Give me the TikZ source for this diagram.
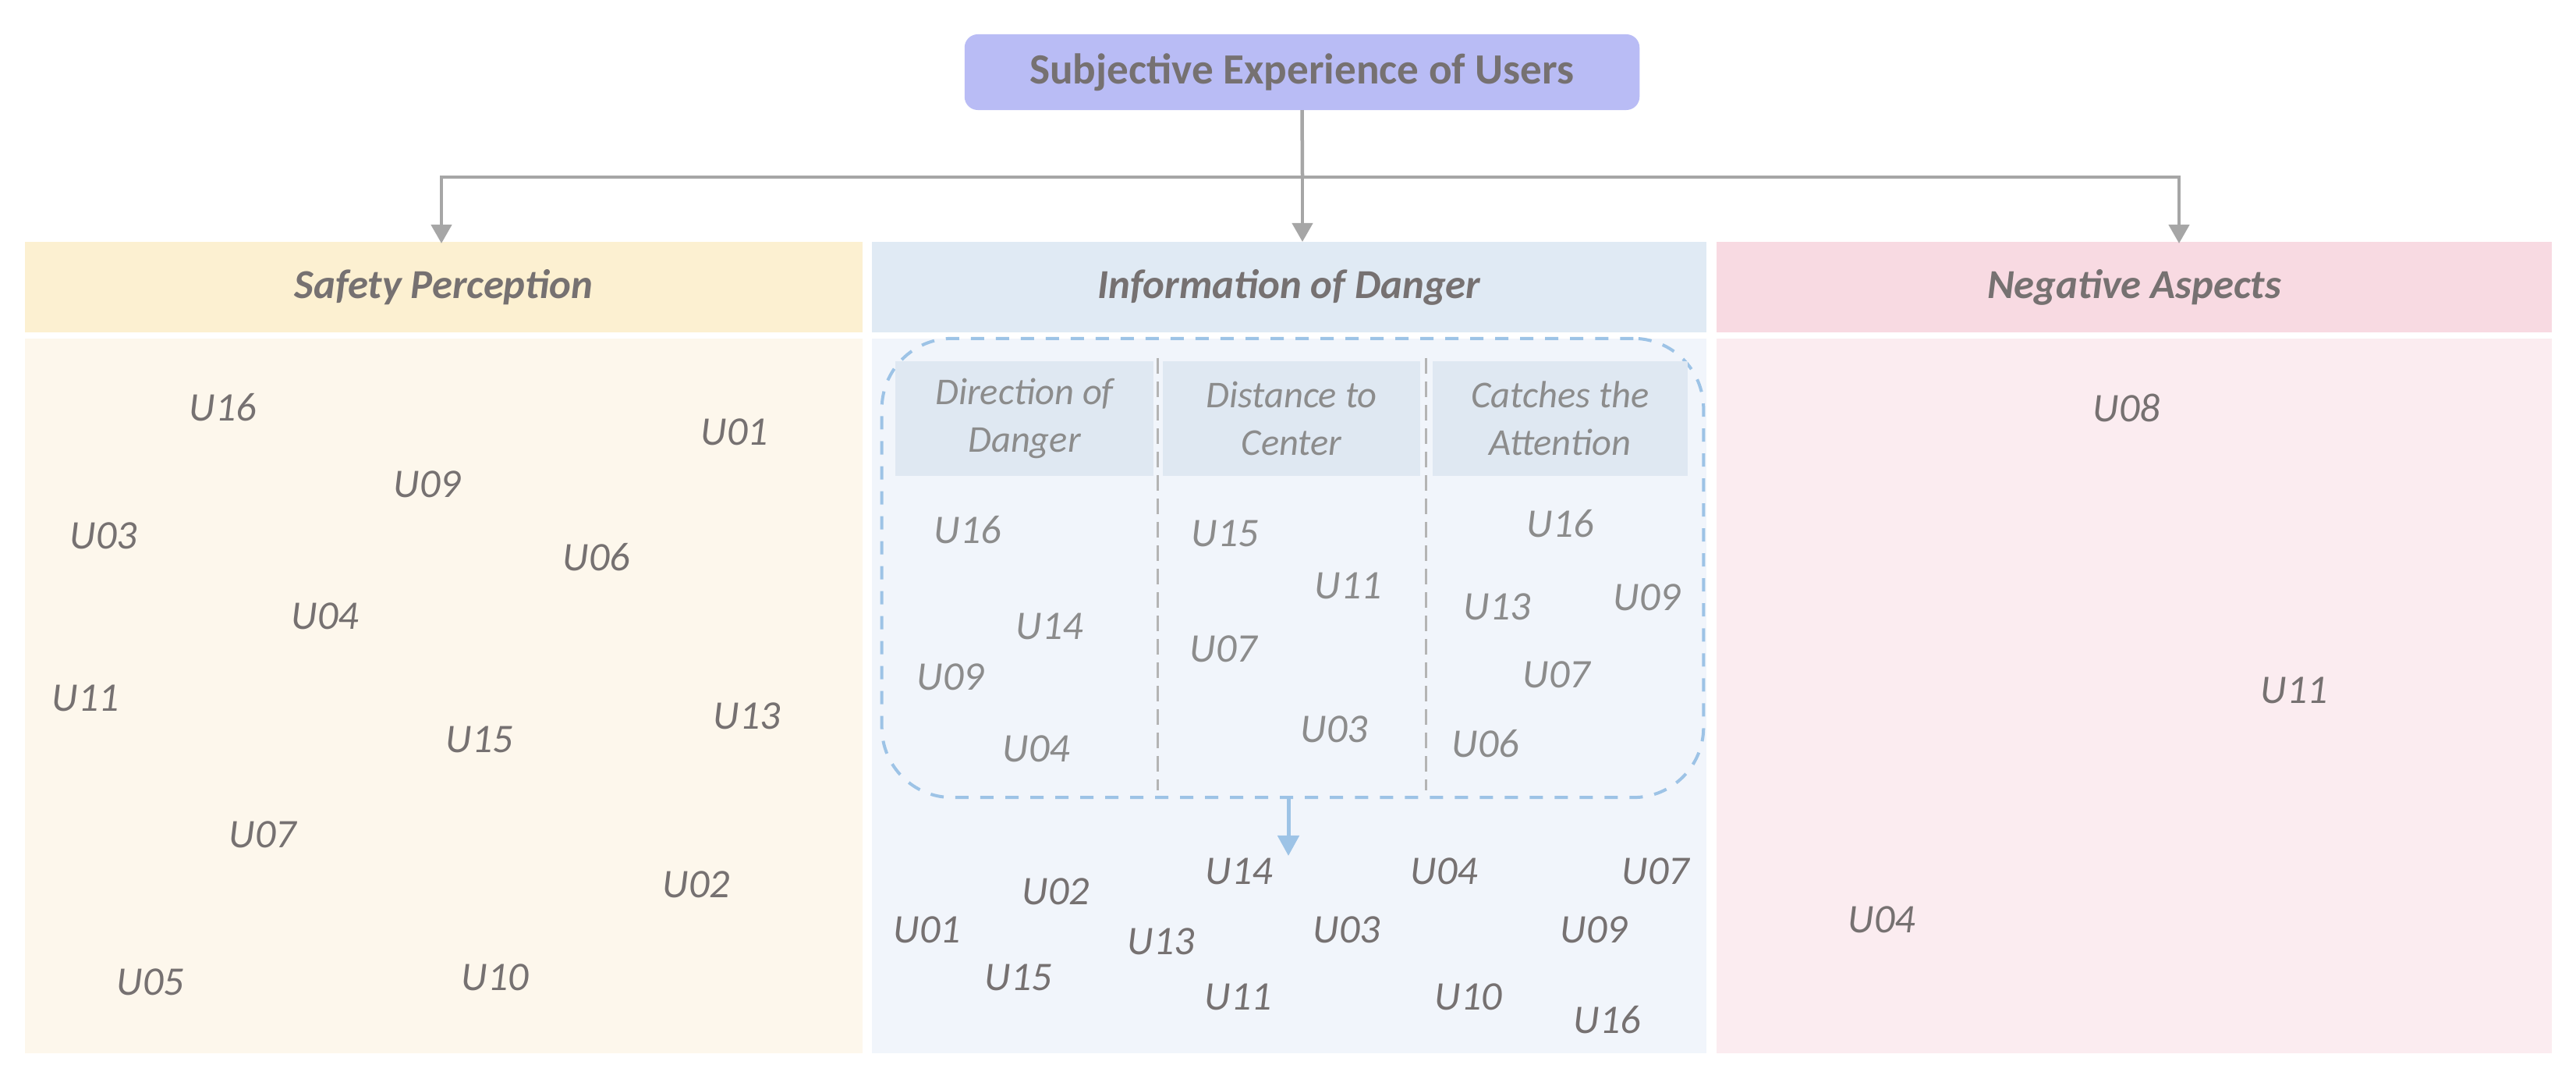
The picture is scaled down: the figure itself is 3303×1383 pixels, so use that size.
\documentclass[tikz,border=0pt]{standalone}
\usepackage{fontspec}
\setmainfont{Carlito}
\usetikzlibrary{arrows.meta}
\definecolor{txt}{HTML}{767171}
\definecolor{ltxt}{HTML}{8C8C8C}
\definecolor{topfill}{HTML}{B9BCF5}
\definecolor{spH}{HTML}{FCF0D1}
\definecolor{spB}{HTML}{FDF7EC}
\definecolor{mdH}{HTML}{E0EAF4}
\definecolor{mdB}{HTML}{F1F5FB}
\definecolor{subH}{HTML}{DFE8F2}
\definecolor{naH}{HTML}{F8DAE2}
\definecolor{naB}{HTML}{FBECF0}
\definecolor{connc}{HTML}{A6A6A6}
\definecolor{blu}{HTML}{9DC3E6}
\definecolor{sepc}{HTML}{B4B4B4}
\begin{document}
\begin{tikzpicture}[x=0.01cm,y=-0.01cm,
  panel/.style={rectangle,draw=none,inner sep=0pt,outer sep=0pt},
  hdr/.style={panel,minimum height=1.16cm,text=txt,font=\fontsize{15}{18}\selectfont\bfseries\itshape},
  bodyp/.style={panel,minimum height=9.16cm},
  subhdr/.style={panel,fill=subH,minimum height=1.47cm,text=ltxt,align=center,font=\fontsize{13.8}{17.4}\selectfont\itshape},
  lab/.style={inner sep=0pt,text=txt,font=\fontsize{14.8}{17}\selectfont\itshape},
  llab/.style={lab,text=ltxt},
  conn/.style={draw=connc,line width=0.045cm,-{Triangle[width=0.26cm,length=0.24cm]}},
  bconn/.style={draw=blu,line width=0.05cm,-{Triangle[width=0.27cm,length=0.26cm]}},
]
\useasboundingbox (0,0) rectangle (3303,1383);
\fill[white] (0,0) rectangle (3303,1383);

% top node
\node[panel,fill=topfill,rounded corners=0.17cm,minimum width=8.65cm,minimum height=0.97cm,
  text=txt,font=\fontsize{15.7}{19}\selectfont\bfseries] (top) at (1669.5,92.5) {Subjective Experience of Users};

% headers
\node[hdr,fill=spH,minimum width=10.74cm] (sp) at (569,368) {Safety Perception};
\node[hdr,fill=mdH,minimum width=10.70cm] (md) at (1653,368) {Information of Danger};
\node[hdr,fill=naH,minimum width=10.71cm] (na) at (2736.5,368) {Negative Aspects};

% bodies
\node[bodyp,fill=spB,minimum width=10.74cm] (spb) at (569,892) {};
\node[bodyp,fill=mdB,minimum width=10.70cm] (mdb) at (1653,892) {};
\node[bodyp,fill=naB,minimum width=10.71cm] (nab) at (2736.5,892) {};

% connectors
\coordinate (jun) at (1670,227);
\coordinate (spin) at (566,312);
\coordinate (nain) at (2794,312);
\draw[draw=connc,line width=0.045cm] (top.south) -- (jun);
\draw[conn] (jun) -| (spin);
\draw[conn] (jun) -| (nain);
\draw[conn] (jun) -- (md.north -| jun);

% dashed group box
\node[panel,draw=blu,line width=0.04cm,dash pattern=on 0.17cm off 0.15cm,rounded corners=0.9cm,
  minimum width=10.53cm,minimum height=5.88cm] (grp) at (1657.5,728) {};

% sub headers
\node[subhdr,minimum width=3.31cm] (h1) at (1313.5,536.5) {Direction of\\Danger};
\node[subhdr,minimum width=3.30cm] (h2) at (1656,536.5) {Distance to\\Center};
\node[subhdr,minimum width=3.27cm] (h3) at (2000.5,536.5) {Catches the\\Attention};

% separators
\coordinate (s1t) at (1484,459); \coordinate (s1b) at (1484,1013);
\coordinate (s2t) at (1828,459); \coordinate (s2b) at (1828,1013);
\draw[sepc,line width=0.03cm,dash pattern=on 0.2cm off 0.1cm] (s1t) -- (s1b);
\draw[sepc,line width=0.03cm,dash pattern=on 0.2cm off 0.1cm] (s2t) -- (s2b);

% blue arrow
\coordinate (bend) at (1652,1097);
\draw[bconn] (grp.south -| bend) -- (bend);

% Safety Perception labels
\node[lab] (sU16) at (286,522) {U16};
\node[lab] (sU01) at (942,554) {U01};
\node[lab] (sU09) at (548,621) {U09};
\node[lab] (sU03) at (133,687) {U03};
\node[lab] (sU06) at (765,714) {U06};
\node[lab] (sU04) at (417,790) {U04};
\node[lab] (sU11) at (110,895) {U11};
\node[lab] (sU13) at (958,918) {U13};
\node[lab] (sU15) at (615,948) {U15};
\node[lab] (sU07) at (337,1070) {U07};
\node[lab] (sU02) at (893,1134) {U02};
\node[lab] (sU05) at (193,1259) {U05};
\node[lab] (sU10) at (635,1253) {U10};

% Direction of Danger
\node[llab] (aU16) at (1241,679) {U16};
\node[llab] (aU14) at (1346,803) {U14};
\node[llab] (aU09) at (1219,868) {U09};
\node[llab] (aU04) at (1329,960) {U04};
% Distance to Center
\node[llab] (bU15) at (1571,684) {U15};
\node[llab] (bU11) at (1729,751) {U11};
\node[llab] (bU07) at (1569,832) {U07};
\node[llab] (bU03) at (1711,935) {U03};
% Catches the Attention
\node[llab] (cU16) at (2001,671) {U16};
\node[llab] (cU13) at (1920,778) {U13};
\node[llab] (cU09) at (2112,766) {U09};
\node[llab] (cU07) at (1996,865) {U07};
\node[llab] (cU06) at (1905,953) {U06};

% Information of Danger (bottom)
\node[lab] (mU14) at (1589,1117) {U14};
\node[lab] (mU04) at (1852,1117) {U04};
\node[lab] (mU07) at (2123,1117) {U07};
\node[lab] (mU02) at (1354,1143) {U02};
\node[lab] (mU01) at (1189,1192) {U01};
\node[lab] (mU13) at (1489,1207) {U13};
\node[lab] (mU03) at (1727,1192) {U03};
\node[lab] (mU09) at (2044,1192) {U09};
\node[lab] (mU15) at (1306,1253) {U15};
\node[lab] (mU11) at (1588,1278) {U11};
\node[lab] (mU10) at (1883,1278) {U10};
\node[lab] (mU16) at (2061,1307) {U16};

% Negative Aspects
\node[lab] (nU08) at (2727,523) {U08};
\node[lab] (nU11) at (2942,885) {U11};
\node[lab] (nU04) at (2413,1179) {U04};
\end{tikzpicture}
\end{document}
